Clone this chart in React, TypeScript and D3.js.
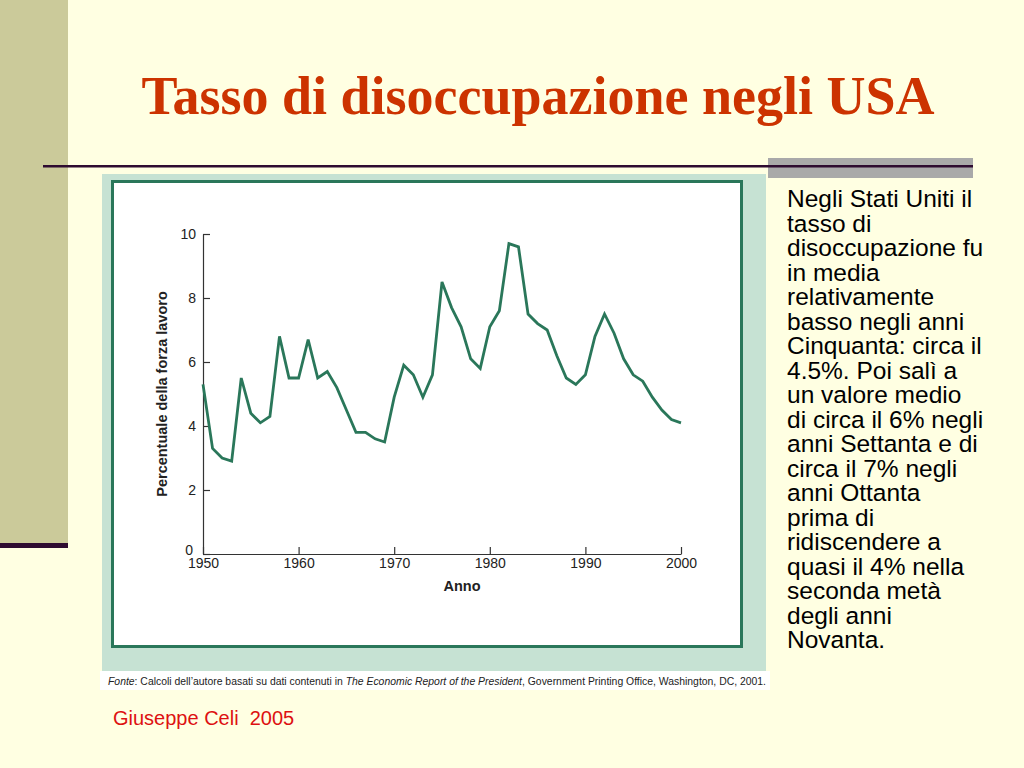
import React, { useEffect, useRef } from 'react';
import * as d3 from 'd3';

const years = d3.range(1950, 2001);
const unemployment = [
  5.3, 3.3, 3.0, 2.9, 5.5, 4.4, 4.1, 4.3, 6.8, 5.5,
  5.5, 6.7, 5.5, 5.7, 5.2, 4.5, 3.8, 3.8, 3.6, 3.5,
  4.9, 5.9, 5.6, 4.9, 5.6, 8.5, 7.7, 7.1, 6.1, 5.8,
  7.1, 7.6, 9.7, 9.6, 7.5, 7.2, 7.0, 6.2, 5.5, 5.3,
  5.6, 6.8, 7.5, 6.9, 6.1, 5.6, 5.4, 4.9, 4.5, 4.2,
  4.1,
];
const xTicks = [1950, 1960, 1970, 1980, 1990, 2000];
const yTicks = [0, 2, 4, 6, 8, 10];

const bodyLines = [
  'Negli Stati Uniti il',
  'tasso di',
  'disoccupazione fu',
  'in media',
  'relativamente',
  'basso negli anni',
  'Cinquanta: circa il',
  '4.5%. Poi salì a',
  'un valore medio',
  'di circa il 6% negli',
  'anni Settanta e di',
  'circa il 7% negli',
  'anni Ottanta',
  'prima di',
  'ridiscendere a',
  'quasi il 4% nella',
  'seconda metà',
  'degli anni',
  'Novanta.',
];

const W = 1024;
const H = 768;
const sans = '"Liberation Sans", Arial, Helvetica, sans-serif';
const green = '#2a775a';

export default function App() {
  const gRef = useRef<SVGGElement>(null);

  const x = d3.scaleLinear().domain([1950, 2000]).range([203, 681]);
  const y = d3.scaleLinear().domain([0, 10]).range([554, 234]);

  useEffect(() => {
    if (!gRef.current) return;
    const g = d3.select(gRef.current);
    g.selectAll('*').remove();

    const xAxis = d3.axisBottom(x).tickValues(xTicks).tickFormat(d3.format('d')).tickSizeInner(-7).tickSizeOuter(0).tickPadding(4);
    const yAxis = d3.axisLeft(y).tickValues(yTicks).tickSizeInner(-7).tickSizeOuter(0).tickPadding(7);

    const gx = g.append('g').attr('transform', `translate(0,${y(0)})`).call(xAxis);
    const gy = g.append('g').attr('transform', `translate(${x(1950)},0)`).call(yAxis);

    [gx, gy].forEach(a => {
      a.selectAll('path, line').attr('stroke', '#333').attr('stroke-width', 1.2);
      a.selectAll('text').attr('fill', '#222').style('font-family', sans).style('font-size', '14px');
    });
    gy.selectAll('text').attr('dy', '0.32em');
    gy.selectAll('.tick').filter((d: any) => d === 0).select('text').attr('dy', '0.05em').attr('x', -10);

    const line = d3.line<number>()
      .x((_, i) => x(years[i]))
      .y(d => y(d));

    g.append('path')
      .datum(unemployment)
      .attr('d', line)
      .attr('fill', 'none')
      .attr('stroke', green)
      .attr('stroke-width', 2.8)
      .attr('stroke-linejoin', 'miter');
  }, []);

  return (
    <svg width={W} height={H} style={{ position: 'absolute', left: 0, top: 0 }}>
      <rect width={W} height={H} fill="#ffffe2" />
      <rect x={0} y={0} width={68} height={545} fill="#cbca9a" />
      <rect x={0} y={543} width={68} height={5} fill="#2e0b30" />

      <text x={538} y={114} textAnchor="middle" fill="#cc3300"
        style={{ fontFamily: '"Liberation Serif", "Times New Roman", serif', fontWeight: 'bold', fontSize: 54 }}>
        Tasso di disoccupazione negli USA
      </text>

      <rect x={768} y={158} width={205} height={20} fill="#a9a9a9" />
      <rect x={43} y={165} width={930} height={2.5} fill="#2e0b30" />

      {/* chart panel */}
      <rect x={102} y={174} width={664} height={497} fill="#c6e2d3" />
      <rect x={112.5} y={181.5} width={629} height={465} fill="#fff" stroke={green} strokeWidth={3} />
      <rect x={100} y={671} width={670} height={19} fill="#fff" />
      <text x={108} y={685} style={{ fontFamily: sans, fontSize: 10 }} fill="#222" textLength={658} lengthAdjust="spacingAndGlyphs">
        <tspan fontStyle="italic">Fonte</tspan>: Calcoli dell’autore basati su dati contenuti in{' '}
        <tspan fontStyle="italic">The Economic Report of the President</tspan>, Government Printing Office, Washington, DC, 2001.
      </text>

      <g ref={gRef} />

      <text transform="translate(167,394) rotate(-90)" textAnchor="middle" fill="#222"
        style={{ fontFamily: sans, fontWeight: 'bold', fontSize: 14.5 }}>
        Percentuale della forza lavoro
      </text>
      <text x={462} y={591} textAnchor="middle" fill="#222"
        style={{ fontFamily: sans, fontWeight: 'bold', fontSize: 14.5 }}>
        Anno
      </text>

      <text style={{ fontFamily: sans, fontSize: 24.5 }} fill="#000">
        {bodyLines.map((l, i) => (
          <tspan key={i} x={787} y={207 + i * 24.5}>{l}</tspan>
        ))}
      </text>

      <text x={113} y={725} fill="#dd1111" style={{ fontFamily: sans, fontSize: 20 }} xmlSpace="preserve">
        Giuseppe Celi  2005
      </text>
    </svg>
  );
}
